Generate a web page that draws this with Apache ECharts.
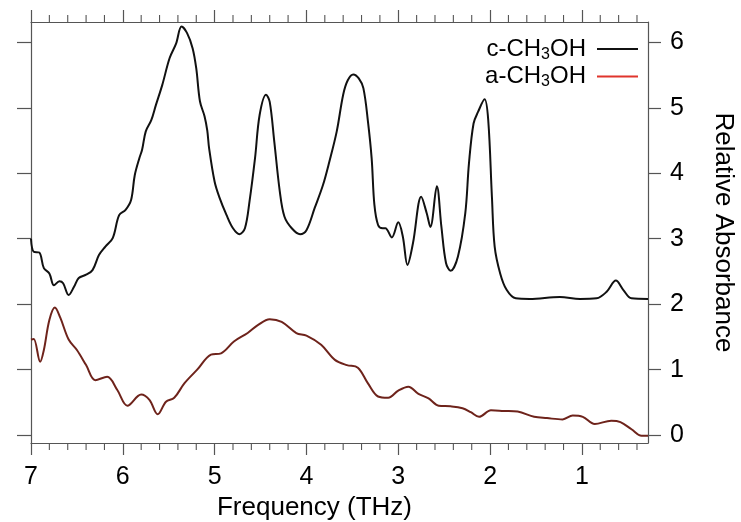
<!DOCTYPE html>
<html>
<head>
<meta charset="utf-8">
<script src="https://cdn.jsdelivr.net/npm/echarts@6/dist/echarts.min.js"></script>
<style>
html,body{margin:0;padding:0;background:#fff;}
#chart{width:741px;height:522px;}
</style>
</head>
<body>
<div id="chart"></div>
<script>
// ---- data ----
const cFreq = [7.00,6.97,6.91,6.86,6.80,6.75,6.69,6.65,6.59,6.53,6.48,6.40,6.33,6.26,6.19,6.11,6.04,5.97,5.91,5.87,5.82,5.79,5.75,5.69,5.64,5.57,5.49,5.42,5.36,5.30,5.24,5.20,5.16,5.11,5.08,5.06,5.00,4.95,4.87,4.80,4.73,4.67,4.62,4.56,4.51,4.44,4.40,4.35,4.29,4.24,4.16,4.07,4.00,3.91,3.82,3.75,3.67,3.60,3.55,3.49,3.43,3.38,3.33,3.29,3.26,3.22,3.17,3.14,3.07,3.00,2.95,2.90,2.84,2.75,2.69,2.65,2.58,2.53,2.48,2.43,2.35,2.27,2.23,2.18,2.13,2.06,2.02,1.98,1.95,1.89,1.82,1.72,1.57,1.24,1.02,0.84,0.73,0.63,0.55,0.46,0.28];
const cAbs  = [3.00,2.80,2.79,2.55,2.47,2.29,2.35,2.32,2.14,2.27,2.40,2.45,2.52,2.75,2.88,3.01,3.36,3.44,3.59,3.97,4.23,4.36,4.64,4.81,5.04,5.35,5.76,5.98,6.24,6.14,5.91,5.60,5.10,4.87,4.65,4.38,3.87,3.64,3.36,3.16,3.07,3.16,3.57,4.23,4.89,5.20,5.09,4.48,3.72,3.34,3.16,3.07,3.13,3.47,3.82,4.18,4.64,5.20,5.42,5.51,5.45,5.30,4.79,4.23,3.52,3.21,3.16,3.16,3.02,3.25,3.03,2.60,2.93,3.64,3.39,3.18,3.80,3.18,2.63,2.51,2.73,3.39,4.15,4.76,4.94,5.13,4.81,3.64,2.88,2.47,2.22,2.09,2.08,2.11,2.08,2.09,2.19,2.36,2.22,2.09,2.08];

const aFreq = [7.00,6.97,6.90,6.86,6.80,6.74,6.68,6.59,6.50,6.40,6.30,6.17,6.06,5.95,5.80,5.71,5.62,5.53,5.44,5.33,5.19,5.04,4.93,4.79,4.64,4.53,4.40,4.27,4.11,4.00,3.84,3.69,3.56,3.44,3.33,3.22,3.11,3.00,2.89,2.78,2.67,2.56,2.43,2.30,2.21,2.12,1.99,1.85,1.70,1.52,1.38,1.21,1.10,0.99,0.86,0.68,0.58,0.46,0.35,0.28];
const aAbs  = [1.46,1.47,1.12,1.30,1.76,1.95,1.79,1.46,1.30,1.07,0.84,0.89,0.69,0.45,0.62,0.54,0.32,0.51,0.57,0.79,1.00,1.23,1.25,1.43,1.56,1.68,1.77,1.73,1.56,1.52,1.38,1.15,1.07,1.03,0.79,0.59,0.57,0.68,0.74,0.63,0.56,0.45,0.44,0.41,0.35,0.28,0.38,0.37,0.36,0.28,0.26,0.24,0.30,0.28,0.17,0.22,0.20,0.09,-0.01,-0.01];

const xTicks = [1,2,3,4,5,6,7];
const yTicks = [0,1,2,3,4,5,6];
const seriesNames = ['c-CH3OH','a-CH3OH'];
const xName = 'Frequency (THz)';
const yName = 'Relative Absorbance';

// ---- chart ----
const FONT = 'Liberation Sans, Arial, sans-serif';
const AX = '#555555';
const X_MIN = 0.28, X_MAX = 7, Y_MIN = -0.12, Y_MAX = 6.31;
const chart = echarts.init(document.getElementById('chart'), null, {renderer:'canvas'});

function zip(a,b){ return a.map((v,i)=>[v,b[i]]); }

// minor tick positions every 0.2 THz (between the labelled ticks)
const xMinor = [];
for (let i = 1; i < 35; i++) {
  if (i % 5 === 0) continue;
  const v = i / 5;
  if (v > X_MIN && v < X_MAX) xMinor.push(v);
}

const xBase = {
  type:'value', inverse:true, min:X_MIN, max:X_MAX, splitNumber:7,
  splitLine:{show:false},
  axisLine:{show:true, onZero:false, lineStyle:{color:AX, width:1.2}},
  axisTick:{show:true, inside:false, length:12, customValues:xTicks, lineStyle:{color:AX, width:1.2}}
};
const yBase = {
  type:'value', min:Y_MIN, max:Y_MAX, splitNumber:6,
  splitLine:{show:false},
  axisLine:{show:true, onZero:false, lineStyle:{color:AX, width:1.2}},
  axisTick:{show:true, inside:false, length:13, customValues:yTicks, lineStyle:{color:AX, width:1.2}}
};

const option = {
  animation:false,
  backgroundColor:'#ffffff',
  textStyle:{fontFamily:FONT, color:'#000'},
  grid:{left:31, right:93, top:22, bottom:79, containLabel:false, outerBoundsMode:'none'},
  legend:{
    orient:'vertical', right:98, top:32, align:'right',
    itemWidth:41, itemHeight:14, itemGap:2,
    textStyle:{fontFamily:FONT, fontSize:24, color:'#000', padding:[0,6,0,0],
      rich:{s:{fontFamily:FONT, fontSize:16, color:'#000', padding:[11,0,0,0]}}},
    formatter:function(n){ return n.replace('3','{s|3}'); },
    data:[
      {name:seriesNames[0], icon:'path://M0,0L100,0L100,5L0,5Z', itemStyle:{color:'#111'}},
      {name:seriesNames[1], icon:'path://M0,0L100,0L100,5L0,5Z', itemStyle:{color:'#e0352c'}}
    ]
  },
  xAxis:[
    Object.assign({}, xBase, {
      position:'bottom',
      axisLabel:{show:true, customValues:xTicks, fontSize:25, fontFamily:FONT, color:'#000', margin:22},
      name:xName, nameLocation:'middle', nameGap:51,
      nameTextStyle:{fontSize:26, fontFamily:FONT, color:'#000', padding:[0,50,0,0]}
    }),
    Object.assign({}, xBase, {position:'top', axisLabel:{show:false}})
  ],
  yAxis:[
    Object.assign({}, yBase, {
      position:'right',
      axisLabel:{show:true, customValues:yTicks, fontSize:25, fontFamily:FONT, color:'#000', margin:22},
      name:yName, nameLocation:'middle', nameRotate:-90, nameGap:62,
      nameTextStyle:{fontSize:26, fontFamily:FONT, color:'#000'}
    }),
    Object.assign({}, yBase, {position:'left', axisLabel:{show:false}, axisTick:Object.assign({}, yBase.axisTick, {length:14})})
  ],
  series:[
    {name:seriesNames[0], type:'line', xAxisIndex:0, yAxisIndex:0, data:zip(cFreq,cAbs),
     symbol:'none', smooth:0.35, lineStyle:{color:'#111', width:2}, itemStyle:{color:'#111'}, z:3},
    {name:seriesNames[1], type:'line', xAxisIndex:0, yAxisIndex:0, data:zip(aFreq,aAbs),
     symbol:'none', smooth:0.35, lineStyle:{color:'#6e231b', width:2}, itemStyle:{color:'#6e231b'}, z:2}
  ]
};
chart.setOption(option);

// minor ticks: positions converted through the chart's own x/y scales
const minorEls = [];
xMinor.forEach(function(v){
  const pb = chart.convertToPixel({xAxisIndex:0, yAxisIndex:0}, [v, Y_MIN]);
  const pt = chart.convertToPixel({xAxisIndex:0, yAxisIndex:0}, [v, Y_MAX]);
  if (pb && pt) {
    minorEls.push({type:'line', silent:true, z:10,
      shape:{x1:pb[0], y1:pb[1], x2:pb[0], y2:pb[1] + 7}, style:{stroke:AX, lineWidth:1.1}});
    minorEls.push({type:'line', silent:true, z:10,
      shape:{x1:pt[0], y1:pt[1], x2:pt[0], y2:pt[1] - 7}, style:{stroke:AX, lineWidth:1.1}});
  }
});
chart.setOption({graphic:{elements:minorEls}});
</script>
</body>
</html>
